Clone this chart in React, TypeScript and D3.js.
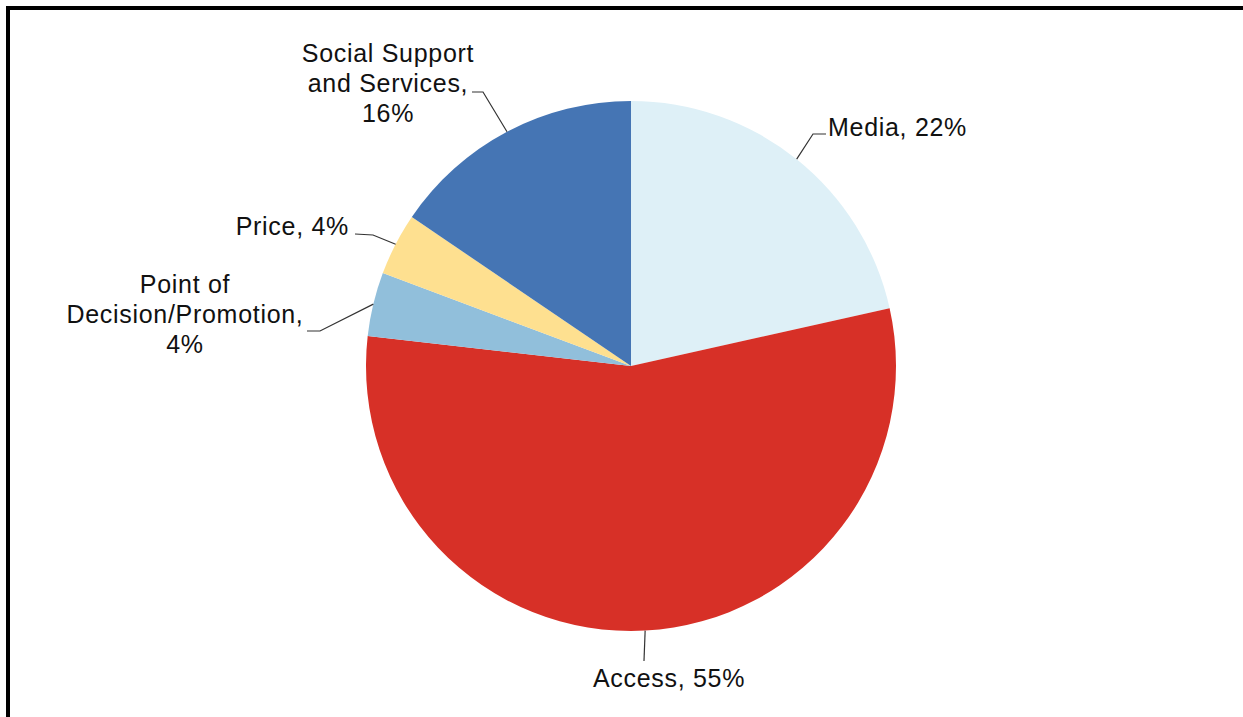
import React from "react";
import * as d3 from "d3";

const categories = ["Media", "Access", "Point of Decision/Promotion", "Price", "Social Support and Services"];
const values = [21.5, 55.3, 3.9, 3.8, 15.5];
const labelLines = [
  ["Media, 22%"],
  ["Access, 55%"],
  ["Point of", "Decision/Promotion,", "4%"],
  ["Price, 4%"],
  ["Social Support", "and Services,", "16%"],
];
const colors = ["#DEF0F7", "#D73027", "#91BFDB", "#FEE090", "#4575B4"];

// layout: label anchor, text alignment, and leader elbow points (absolute px)
const layout = [
  { x: 828, y: 136, anchor: "start", path: [[813, 134], [826, 134]] },
  { x: 669, y: 687, anchor: "middle", path: [[644, 661]] },
  { x: 185, y: 293, anchor: "middle", path: [[320, 331], [307, 331]] },
  { x: 349, y: 235, anchor: "end", path: [[373, 235], [355, 234]] },
  { x: 388, y: 62, anchor: "middle", path: [[483, 92], [472, 92]] },
];

const W = 1243;
const H = 717;
const cx = 631;
const cy = 366;
const R = 265;
const lineH = 30;

export default function App() {
  const pie = d3.pie<number>().sort(null).value((d) => d);
  const arcs = pie(values);
  const arc = d3.arc<d3.PieArcDatum<number>>().innerRadius(0).outerRadius(R);
  const edge = d3.arc<d3.PieArcDatum<number>>().innerRadius(R).outerRadius(R);
  const line = d3.line();

  return (
    <svg
      width={W}
      height={H}
      style={{ position: "absolute", left: 0, top: 0, background: "#fff" }}
      fontFamily="'Liberation Sans', Arial, sans-serif"
    >
      <path d={`M8,${H} L8,8 L${W},8`} fill="none" stroke="#000" strokeWidth={4} />
      <g transform={`translate(${cx},${cy})`}>
        {arcs.map((a, i) => (
          <path key={categories[i]} d={arc(a) || ""} fill={colors[i]} />
        ))}
      </g>
      {arcs.map((a, i) => {
        const [ex, ey] = edge.centroid(a);
        const pts: [number, number][] = [[cx + ex, cy + ey], ...(layout[i].path as [number, number][])];
        return (
          <path key={"l" + i} d={line(pts) || ""} fill="none" stroke="#333" strokeWidth={1.2} />
        );
      })}
      {labelLines.map((lines, i) => (
        <text
          key={"t" + i}
          x={layout[i].x}
          y={layout[i].y}
          textAnchor={layout[i].anchor as any}
          fontSize={25}
          letterSpacing={0.7}
          fill="#111"
        >
          {lines.map((t, j) => (
            <tspan key={j} x={layout[i].x} dy={j === 0 ? 0 : lineH}>
              {t}
            </tspan>
          ))}
        </text>
      ))}
    </svg>
  );
}
